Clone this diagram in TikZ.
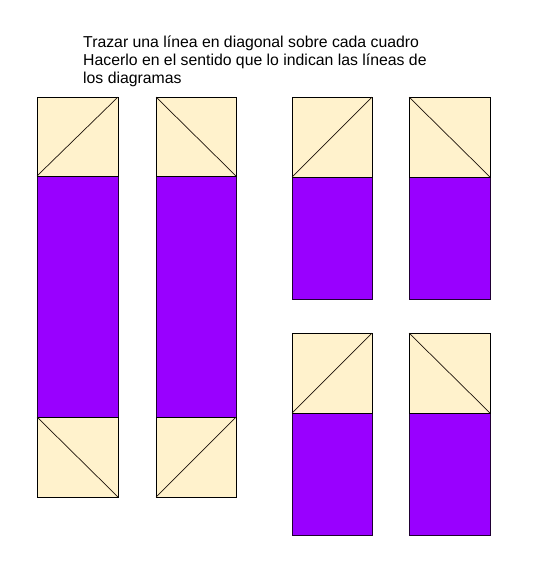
\documentclass[tikz,border=0pt]{standalone}
\usepackage{fontspec}
\setmainfont{Liberation Sans}
\definecolor{cream}{HTML}{FFF2CC}
\definecolor{violet}{HTML}{9900FF}
\begin{document}
\begin{tikzpicture}[x=1pt,y=-1pt,
  sq/.style={draw=black,fill=cream,line width=0.8pt},
  bar/.style={draw=black!80!violet,fill=violet,line width=0.8pt},
  diag/.style={draw=black!85!brown,line width=0.7pt},
  txt/.style={anchor=base west,inner sep=0pt,font=\fontsize{15.8}{18}\selectfont}]
\useasboundingbox (0,0) rectangle (538,574);
\node[txt] (t1) at (83,47) {Trazar una línea en diagonal sobre cada cuadro};
\node[txt] (t2) at (83,65) {Hacerlo en el sentido que lo indican las líneas de};
\node[txt] (t3) at (83,83) {los diagramas};
% column 1
\draw[bar] (37,176) rectangle (118,417);
\draw[sq] (37,97) rectangle (118,176);
\draw[diag] (37,176) -- (118,97);
\draw[sq] (37,417) rectangle (118,497);
\draw[diag] (37,417) -- (118,497);
% column 2
\draw[bar] (156,176) rectangle (236,417);
\draw[sq] (156,97) rectangle (236,176);
\draw[diag] (156,97) -- (236,176);
\draw[sq] (156,417) rectangle (236,497);
\draw[diag] (156,497) -- (236,417);
% column 3
\draw[bar] (292,177) rectangle (372,299);
\draw[sq] (292,97) rectangle (372,177);
\draw[diag] (292,177) -- (372,97);
\draw[bar] (292,413) rectangle (372,535);
\draw[sq] (292,333) rectangle (372,413);
\draw[diag] (292,413) -- (372,333);
% column 4
\draw[bar] (409,177) rectangle (490,299);
\draw[sq] (409,97) rectangle (490,177);
\draw[diag] (409,97) -- (490,177);
\draw[bar] (409,413) rectangle (490,535);
\draw[sq] (409,333) rectangle (490,413);
\draw[diag] (409,333) -- (490,413);
\end{tikzpicture}
\end{document}
